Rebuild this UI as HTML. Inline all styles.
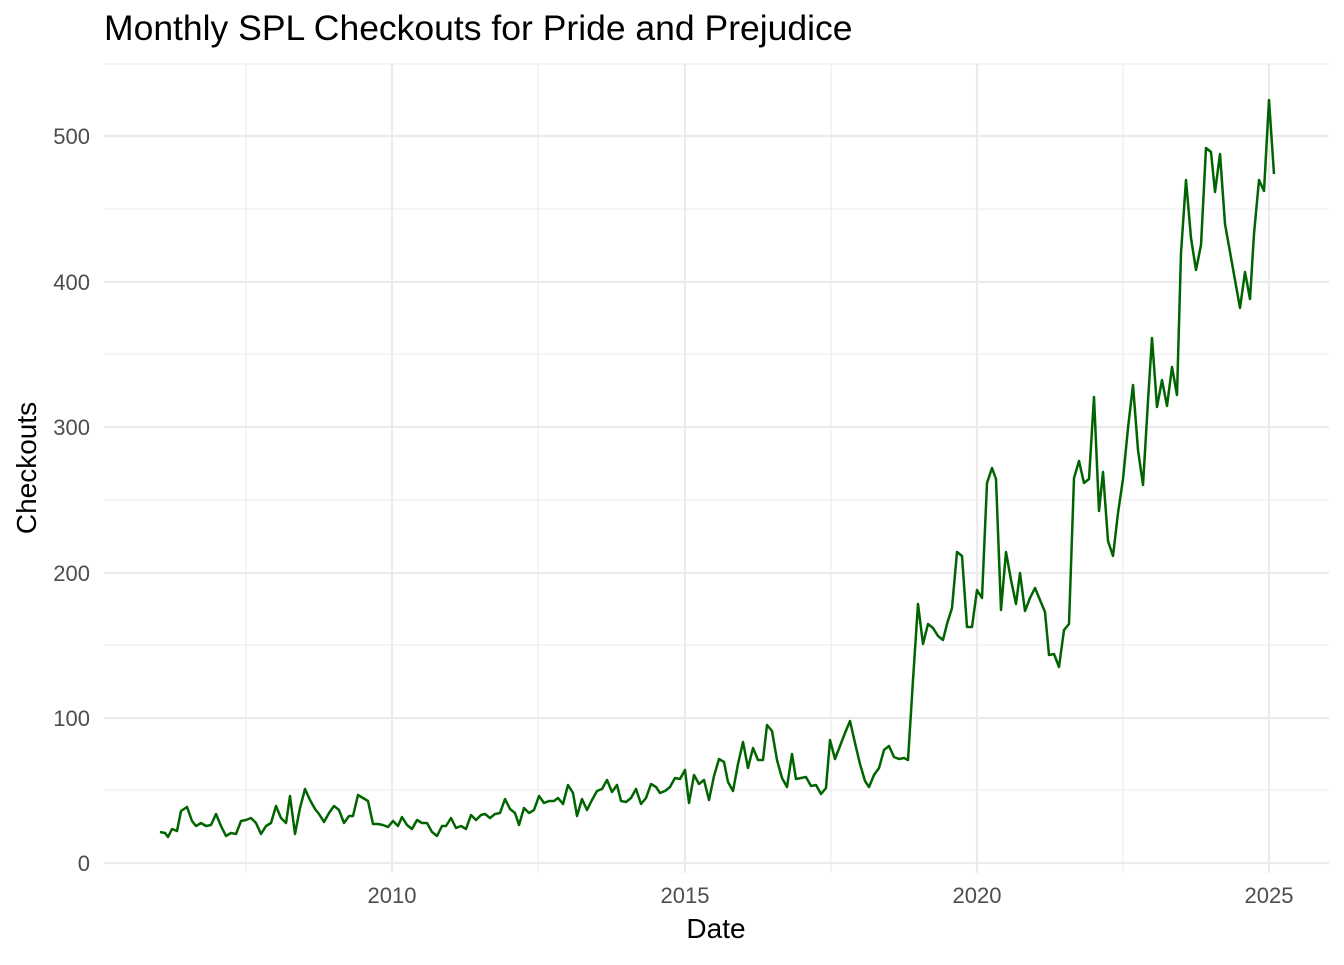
<!DOCTYPE html>
<html><head><meta charset="utf-8"><style>
html,body{margin:0;padding:0;background:#fff;}
svg text{font-family:"Liberation Sans",sans-serif;}
</style></head><body>
<svg width="1344" height="960" xmlns="http://www.w3.org/2000/svg">
<rect width="1344" height="960" fill="#fff"/>
<g stroke="#ebebeb" stroke-width="1.1">
<line x1="104" x2="1329" y1="790" y2="790"/><line x1="104" x2="1329" y1="645" y2="645"/>
<line x1="104" x2="1329" y1="500" y2="500"/><line x1="104" x2="1329" y1="354" y2="354"/>
<line x1="104" x2="1329" y1="209" y2="209"/><line x1="104" x2="1329" y1="64" y2="64"/>
<line x1="246" x2="246" y1="63" y2="873"/><line x1="538" x2="538" y1="63" y2="873"/>
<line x1="831" x2="831" y1="63" y2="873"/><line x1="1123" x2="1123" y1="63" y2="873"/>
</g>
<g stroke="#ebebeb" stroke-width="2.2">
<line x1="104" x2="1329" y1="863" y2="863"/><line x1="104" x2="1329" y1="718" y2="718"/>
<line x1="104" x2="1329" y1="573" y2="573"/><line x1="104" x2="1329" y1="427" y2="427"/>
<line x1="104" x2="1329" y1="282" y2="282"/><line x1="104" x2="1329" y1="136" y2="136"/>
<line x1="392" x2="392" y1="63" y2="873"/><line x1="685" x2="685" y1="63" y2="873"/>
<line x1="977" x2="977" y1="63" y2="873"/><line x1="1269" x2="1269" y1="63" y2="873"/>
</g>
<polyline fill="none" stroke="#006400" stroke-width="2.5" stroke-linejoin="round" points="160,832 165,833 168,837 172,829 177,831 181,811 187,807 192,821 196,826 201,823 206,826 211,825 216,814 221,826 226,836 231,833 236,834 241,821 246,820 251,818 256,823 261,834 266,826 271,823 276,806 281,818 286,823 290,796 295,834 300,808 305,789 310,800 315,809 319,814 324,822 329,813 334,806 339,810 344,823 349,816 353,816 358,795 363,798 368,801 373,824 378,824 383,825 388,827 393,821 398,826 402,817 407,825 412,829 417,820 422,823 427,823 432,832 437,836 442,826 446,826 451,818 456,828 461,826 466,829 471,815 476,820 481,815 485,814 490,818 495,814 500,813 505,799 510,809 515,813 519,825 524,808 529,813 534,810 539,796 544,803 549,801 554,801 558,798 563,804 568,785 573,793 577,816 582,799 587,810 592,800 597,791 602,789 607,780 612,792 617,785 621,801 626,802 631,798 636,789 641,804 646,798 651,784 656,787 660,793 665,791 670,787 675,778 680,779 685,770 689,803 694,775 699,784 704,780 709,800 714,776 719,759 724,762 728,782 733,791 738,764 743,742 748,768 753,748 758,760 763,760 767,725 772,731 777,760 782,778 787,787 792,754 796,779 801,778 806,777 811,786 816,785 821,794 826,788 830,740 835,759 840,746 845,733 850,721 855,743 860,764 865,781 869,787 874,775 879,768 884,750 889,746 894,757 899,759 904,758 908,760 913,680 918,604 923,644 928,624 933,628 938,636 943,640 947,624 952,608 957,552 962,556 967,627 972,627 977,590 982,598 987,483 992,468 996,479 1001,610 1006,552 1011,580 1016,604 1020,573 1025,611 1030,598 1035,588 1040,600 1045,612 1049,655 1054,654 1059,667 1064,630 1069,624 1074,478 1079,461 1084,483 1089,479 1094,397 1099,511 1103,472 1108,541 1113,556 1118,513 1123,479 1128,428 1133,385 1138,450 1143,485 1148,401 1152,338 1157,407 1162,380 1167,406 1172,367 1177,395 1181,253 1186,180 1191,238 1196,270 1201,245 1206,148 1211,152 1215,192 1220,154 1225,224 1230,252 1235,280 1240,308 1245,272 1250,299 1254,234 1259,180 1264,191 1269,100 1274,174"/>
<g fill="#4d4d4d" font-size="22" text-anchor="end">
<text x="90" y="871">0</text><text x="90" y="726">100</text><text x="90" y="581">200</text>
<text x="90" y="435">300</text><text x="90" y="290">400</text><text x="90" y="144">500</text>
</g>
<g fill="#4d4d4d" font-size="22" text-anchor="middle">
<text x="392" y="903">2010</text><text x="685" y="903">2015</text><text x="977" y="903">2020</text><text x="1269" y="903">2025</text>
</g>
<text x="716" y="938" font-size="28" text-anchor="middle" fill="#000">Date</text>
<text transform="translate(36,468) rotate(-90)" font-size="28" text-anchor="middle" fill="#000">Checkouts</text>
<text x="104" y="40" font-size="35.5" fill="#000">Monthly SPL Checkouts for Pride and Prejudice</text>
</svg>
</body></html>
